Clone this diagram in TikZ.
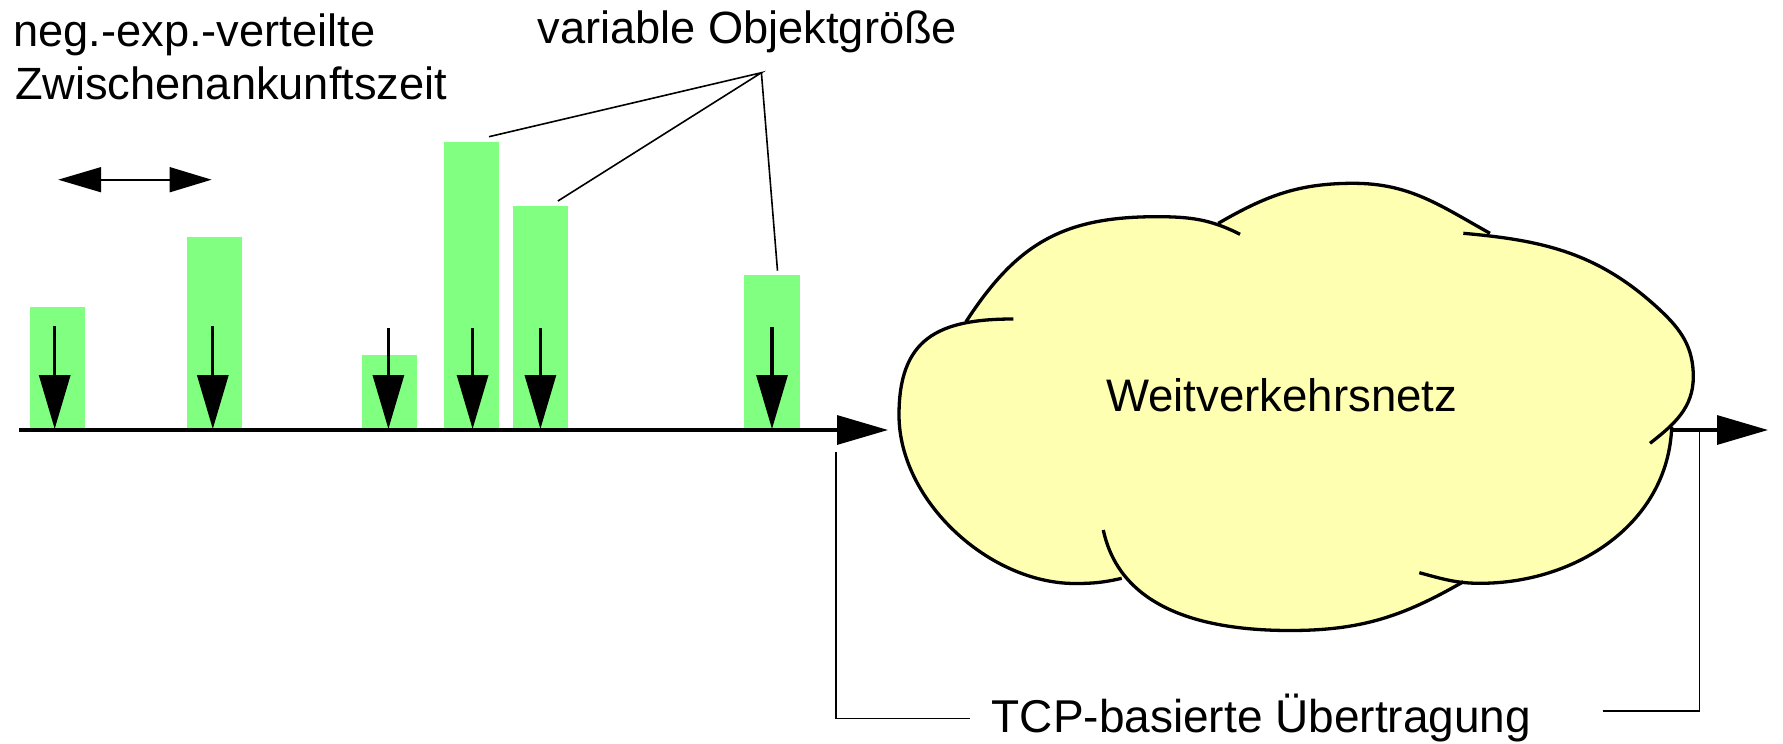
\documentclass[tikz,border=0pt]{standalone}
\usepackage{fontspec}
\setmainfont{Liberation Sans}
\usetikzlibrary{arrows.meta}
\definecolor{bargreen}{RGB}{128,255,128}
\definecolor{cloudyellow}{RGB}{255,255,178}
\begin{document}
\begin{tikzpicture}[x=1pt,y=-1pt,
  bar/.style={fill=bargreen, draw=none, inner sep=0pt, outer sep=0pt, anchor=south},
  txt/.style={inner sep=0pt, outer sep=0pt, font=\fontsize{45.2}{52}\selectfont},
  downarrow/.style={line width=3.2pt, -{Triangle[length=54pt,width=31pt]}},
  axisline/.style={line width=3.3pt, -{Triangle[length=51pt,width=29pt]}},
  thinline/.style={line width=1.6pt},
  cloudline/.style={line width=3.3pt, line join=round}]
\useasboundingbox (0,0) rectangle (1783,744);

% bars
\node[bar, minimum width=55pt, minimum height=123.3pt] (b1) at (57.5,430) {};
\node[bar, minimum width=55pt, minimum height=192.7pt] (b2) at (214,430) {};
\node[bar, minimum width=55pt, minimum height=75pt] (b3) at (389.5,430) {};
\node[bar, minimum width=55.5pt, minimum height=288.3pt] (b4) at (471.3,430) {};
\node[bar, minimum width=55pt, minimum height=224.3pt] (b5) at (540.6,430) {};
\node[bar, minimum width=55.3pt, minimum height=155pt] (b6) at (772,430) {};

% axis
\coordinate (ax0) at (19,430);
\coordinate (ax1) at (888,430);
\draw[axisline] (ax0) -- (ax1);

% down arrows
\foreach \n/\x/\t in {1/54.7/326, 2/212.8/326, 3/388.4/328.3, 4/472.6/327.7, 5/540.4/327.7, 6/772/327}{
  \coordinate (s\n) at (\x,\t);
  \coordinate (e\n) at (\x,429);
  \draw[downarrow] (s\n) -- (e\n);
}

% double arrow
\coordinate (dl) at (58.2,179.7);
\coordinate (dr) at (211.6,179.7);
\draw[line width=1.7pt, {Triangle[length=43pt,width=25pt]}-{Triangle[length=42pt,width=25pt]}] (dl) -- (dr);

% leader lines
\coordinate (lc) at (761.4,72.7);
\coordinate (l4) at (489,136.7);
\coordinate (l5) at (557.9,201);
\coordinate (l6) at (777.5,270.7);
\draw[thinline] (l4) -- (lc) -- (l5);
\draw[thinline] (lc) -- (l6);

% cloud lobes (angles are screen angles, y-axis flipped)
\coordinate (cc) at (1290,410);
\def\lobeL{(1013.3,319) to[out=180,in=90,looseness=1.3] (899,415) to[out=-90,in=180,looseness=0.9] (1075,583.5) to[out=0,in=193] (1121.7,578.3)}
\def\lobeTL{(966,321.7) to[out=57,in=180,looseness=1.1] (1156.7,216.7) to[out=0,in=153] (1240,234.3)}
\def\lobeT{(1218.3,223.3) to[out=30,in=180] (1353.3,183.3) to[out=0,in=151] (1490,233.3)}
\def\lobeR{(1463.3,233.3) to[out=-5,in=137] (1660,310) to[out=-43,in=90] (1693.3,376.7) to[out=-90,in=38] (1650,443.3)}
\def\lobeLR{(1671.7,426.7) to[out=-92,in=0] (1480,583.3) to[out=180,in=-15] (1419.3,572.7)}
\def\lobeB{(1103.3,530) to[out=-78,in=180] (1290,630.5) to[out=0,in=210] (1463.3,581.7)}
\foreach \lobe in {\lobeL,\lobeTL,\lobeT,\lobeR,\lobeLR,\lobeB}{
  \fill[cloudyellow] (cc) -- \lobe -- cycle;
}
\foreach \lobe in {\lobeL,\lobeTL,\lobeT,\lobeR,\lobeLR,\lobeB}{
  \draw[cloudline] \lobe;
}

% right axis arrow
\coordinate (ax2) at (1671.7,430);
\coordinate (ax3) at (1768,430);
\draw[axisline] (ax2) -- (ax3);

% bracket
\coordinate (bl0) at (835.7,452);
\coordinate (bl1) at (835.7,718.3);
\coordinate (bl2) at (970,718.3);
\coordinate (br0) at (1602.7,711);
\coordinate (br1) at (1699.3,711);
\coordinate (br2) at (1699.3,431.7);
\draw[thinline] (bl0) -- (bl1) -- (bl2);
\draw[thinline] (br0) -- (br1) -- (br2);

% texts
\node[txt, anchor=base west] (neg1) at (13.5,46.7) {neg.-exp.-verteilte};
\node[txt, anchor=base west] (neg2) at (15,99) {Zwischenankunftszeit};
\node[txt, anchor=base west] (obj) at (537.5,43.3) {variable Objektgröße};
\node[txt, font=\fontsize{45.6}{52}\selectfont, anchor=base] (wan) at (1281.7,411.5) {Weitverkehrsnetz};
\node[txt, font=\fontsize{46}{52}\selectfont, anchor=base west] (tcp) at (991.7,732.3) {TCP-basierte Übertragung};
\end{tikzpicture}
\end{document}
